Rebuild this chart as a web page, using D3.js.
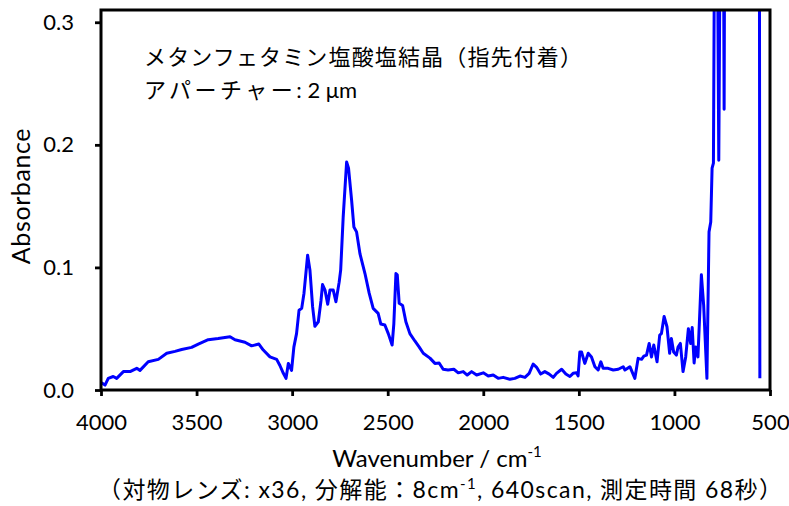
<!DOCTYPE html>
<html>
<head>
<meta charset="utf-8">
<script src="https://cdn.jsdelivr.net/npm/d3@7/dist/d3.min.js"></script>
<style>
  html, body { margin: 0; padding: 0; background: #fff; }
  svg { display: block; }
</style>
</head>
<body>
<svg id="chart" width="789" height="506"></svg>
<script>
// IR spectrum: wavenumber (cm^-1) and absorbance
const wavenumbers = [
  3998, 3979, 3962, 3936, 3918, 3883, 3848, 3813, 3796, 3753, 3700, 3656, 3613, 3578,
  3526, 3491, 3439, 3387, 3325, 3299, 3247, 3212, 3174, 3151, 3116, 3081, 3064, 3046,
  3032, 3020, 3003, 2991, 2977, 2964, 2950, 2938, 2919, 2907, 2893, 2881, 2863, 2849,
  2841, 2828, 2814, 2802, 2785, 2771, 2754, 2746, 2733, 2715, 2705, 2689, 2677, 2663,
  2645, 2619, 2597, 2576, 2550, 2536, 2515, 2497, 2477, 2468, 2457, 2450, 2440, 2422,
  2405, 2384, 2358, 2335, 2314, 2279, 2253, 2231, 2210, 2184, 2154, 2131, 2105, 2084,
  2061, 2035, 2000, 1974, 1948, 1922, 1896, 1861, 1835, 1808, 1782, 1760, 1739, 1721,
  1700, 1678, 1655, 1634, 1617, 1590, 1568, 1547, 1530, 1512, 1504, 1495, 1486, 1469,
  1451, 1434, 1416, 1399, 1385, 1373, 1347, 1320, 1294, 1268, 1259, 1233, 1207, 1190,
  1172, 1160, 1146, 1132, 1120, 1108, 1091, 1077, 1068, 1054, 1039, 1025, 1016, 1004,
  990, 981, 969, 955, 941, 927, 915, 907, 897, 889, 877, 859, 847, 830,
  819, 810, 803, 796, 788, 778, 768, 758, 745, 740, 736, 700, 650, 600,
  556, 553
];
const absorbance = [
  0.006, 0.004, 0.0095, 0.011, 0.0095, 0.015, 0.015, 0.0177, 0.016, 0.023, 0.025, 0.030, 0.0315, 0.033,
  0.0348, 0.0375, 0.041, 0.042, 0.0435, 0.041, 0.039, 0.036, 0.0375, 0.0326, 0.027, 0.025, 0.020, 0.0136,
  0.0095, 0.0217, 0.016, 0.035, 0.046, 0.065, 0.0666, 0.079, 0.110, 0.098, 0.068, 0.052, 0.0557, 0.073,
  0.086, 0.0815, 0.070, 0.0815, 0.0815, 0.072, 0.088, 0.098, 0.141, 0.186, 0.181, 0.155, 0.133, 0.129,
  0.111, 0.095, 0.079, 0.0666, 0.0625, 0.0538, 0.053, 0.046, 0.0367, 0.054, 0.095, 0.094, 0.0707, 0.069,
  0.0557, 0.046, 0.040, 0.035, 0.030, 0.026, 0.0217, 0.022, 0.0169, 0.0163, 0.0169, 0.014, 0.015, 0.0122,
  0.015, 0.0122, 0.014, 0.0114, 0.0122, 0.0095, 0.0103, 0.0087, 0.0095, 0.0114, 0.0103, 0.0136, 0.0212, 0.0185,
  0.013, 0.015, 0.013, 0.0103, 0.0136, 0.0169, 0.013, 0.011, 0.0136, 0.014, 0.0115, 0.031, 0.031, 0.0217,
  0.030, 0.027, 0.019, 0.0163, 0.023, 0.0177, 0.0177, 0.0163, 0.0169, 0.019, 0.0163, 0.019, 0.0095, 0.0258,
  0.025, 0.0277, 0.0285, 0.038, 0.027, 0.0367, 0.023, 0.0448, 0.046, 0.060, 0.0516, 0.030, 0.042, 0.031,
  0.0285, 0.035, 0.038, 0.015, 0.027, 0.050, 0.038, 0.051, 0.022, 0.035, 0.027, 0.094, 0.069, 0.0095,
  0.129, 0.137, 0.181, 0.185, 0.45, 0.45, 0.1875, 0.45, 0.45, 0.229, 0.45, 0.5, 0.55, 0.5,
  0.45, 0.0095
];

const xTicks = [4000, 3500, 3000, 2500, 2000, 1500, 1000, 500];
const yTicks = [0.0, 0.1, 0.2, 0.3];

const titleLines = ["メタンフェタミン塩酸塩結晶（指先付着）", "アパーチャー"];
const apertureValue = ": 2 μm";
const noteText = ["（対物レンズ", ": x36, ", "分解能", "：", "8cm", "-1", ", 640scan,  ", "測定時間", " 68", "秒）"];

const latin = "Lato, 'Open Sans', sans-serif";
const cjk = "'Noto Sans CJK JP', sans-serif";

const svg = d3.select("#chart");
const plotLeft = 101, plotRight = 770, plotTop = 10, plotBottom = 390;

const x = d3.scaleLinear().domain([4000, 500]).range([plotLeft, plotRight]);
const y = d3.scaleLinear().domain([0, 0.31]).range([plotBottom, plotTop]);

svg.append("defs").append("clipPath").attr("id", "plot-clip")
  .append("rect")
  .attr("x", plotLeft).attr("y", plotTop)
  .attr("width", plotRight - plotLeft).attr("height", plotBottom - plotTop);

// spectrum trace
const points = wavenumbers.map((w, i) => [w, absorbance[i]]);
svg.append("path")
  .datum(points)
  .attr("clip-path", "url(#plot-clip)")
  .attr("fill", "none")
  .attr("stroke", "#0000ff")
  .attr("stroke-width", 3)
  .attr("stroke-linejoin", "round")
  .attr("d", d3.line().x(d => x(d[0])).y(d => y(d[1])));

// axes
const xAxis = svg.append("g")
  .attr("transform", `translate(0,${plotBottom})`)
  .call(d3.axisBottom(x).tickValues(xTicks).tickFormat(d3.format("d")).tickSize(6).tickSizeOuter(0).tickPadding(18));
const yAxis = svg.append("g")
  .attr("transform", `translate(${plotLeft},0)`)
  .call(d3.axisLeft(y).tickValues(yTicks).tickFormat(d3.format(".1f")).tickSize(6).tickSizeOuter(0).tickPadding(21));

[xAxis, yAxis].forEach(g => {
  g.select(".domain").remove();
  g.selectAll(".tick line").attr("stroke", "#000").attr("stroke-width", 2.8);
  g.selectAll(".tick text").attr("fill", "#000").style("font-family", latin).style("font-size", "22px");
});
xAxis.selectAll(".tick text").attr("dy", "0.71em");

// plot frame
svg.append("rect")
  .attr("x", plotLeft).attr("y", plotTop)
  .attr("width", plotRight - plotLeft).attr("height", plotBottom - plotTop)
  .attr("fill", "none").attr("stroke", "#000").attr("stroke-width", 3);

// axis titles
const xTitle = svg.append("text")
  .attr("x", 437).attr("y", 467)
  .attr("text-anchor", "middle")
  .style("font-family", latin).style("font-size", "24px");
xTitle.append("tspan").text("Wavenumber / cm");
xTitle.append("tspan").attr("dy", -10).style("font-size", "15px").text("-1");

svg.append("text")
  .attr("transform", "translate(30,196) rotate(-90)")
  .attr("text-anchor", "middle")
  .style("font-family", latin).style("font-size", "25px")
  .attr("letter-spacing", "0.6px")
  .text("Absorbance");

// sample annotation
svg.append("text")
  .attr("x", 144).attr("y", 65)
  .style("font-family", cjk).style("font-size", "22px")
  .attr("textLength", 438).attr("lengthAdjust", "spacing")
  .text(titleLines[0]);
const l2 = svg.append("text")
  .attr("x", 144).attr("y", 98)
  .style("font-size", "22px");
l2.append("tspan").style("font-family", cjk).attr("letter-spacing", "3.5px").text(titleLines[1]);
l2.append("tspan").style("font-family", latin).text(apertureValue);

// measurement conditions
const note = svg.append("text")
  .attr("x", 98).attr("y", 498)
  .attr("textLength", 684).attr("lengthAdjust", "spacing")
  .style("font-size", "23px");
noteText.forEach(s => {
  const t = note.append("tspan").text(s);
  const isCjk = /[\u3000-\u9fff\uff00-\uffef]/.test(s);
  t.style("font-family", isCjk ? cjk : latin);
  if (s === "-1") t.attr("dy", -9).style("font-size", "15px");
  if (s.startsWith(", 640")) t.attr("dy", 9);
});
</script>
</body>
</html>
